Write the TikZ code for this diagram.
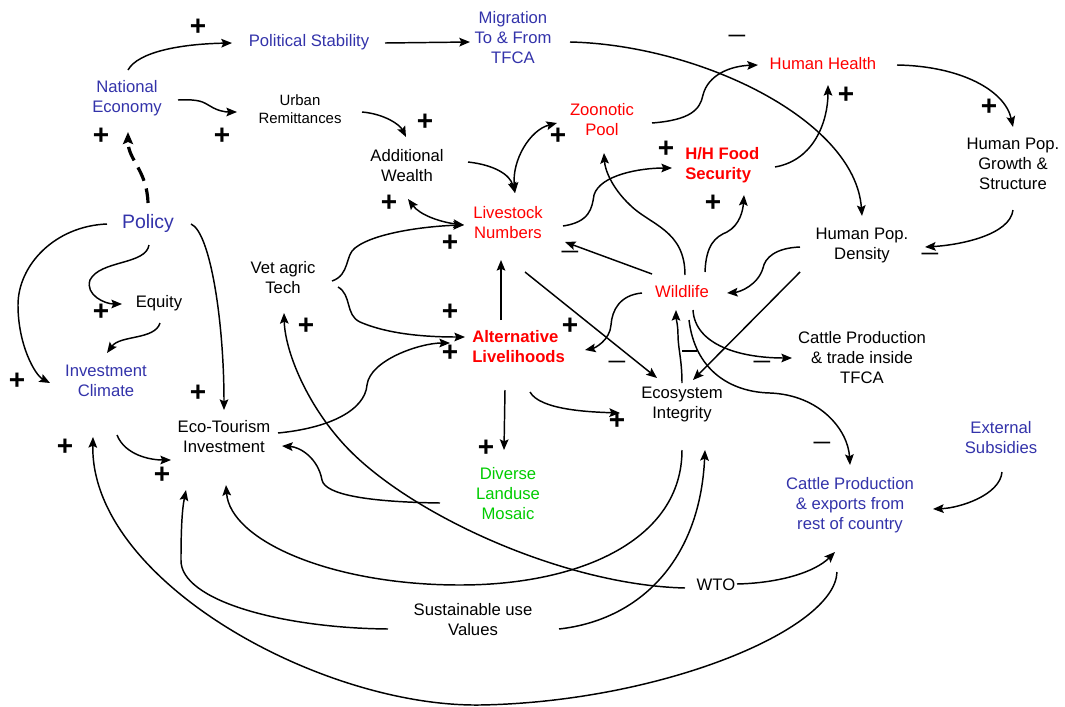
\documentclass[tikz,border=0pt]{standalone}
\usepackage{fontspec}
\setmainfont{Liberation Sans}
\usetikzlibrary{arrows.meta,calc}
\definecolor{cblue}{RGB}{51,51,170}
\definecolor{cred}{RGB}{255,0,0}
\definecolor{cgreen}{RGB}{0,204,0}
\begin{document}
\begin{tikzpicture}[x=0.75pt,y=-0.75pt,
  lbl/.style={align=center,inner sep=0pt,font=\fontsize{12.5}{15}\selectfont},
  boldlbl/.style={align=left,anchor=west,inner sep=0pt,font=\fontsize{12.5}{15}\selectfont\bfseries},
  pl/.style={inner sep=0pt,font=\fontsize{21}{21}\selectfont\bfseries},
  mn/.style={inner sep=0pt,font=\fontsize{12.5}{15}\selectfont\bfseries},
  arr/.style={line width=1.1pt,-{Stealth[length=8pt,width=6.5pt,inset=1.5pt]}},
  darr/.style={line width=1.1pt,{Stealth[length=8pt,width=6.5pt,inset=1.5pt]}-{Stealth[length=8pt,width=6.5pt,inset=1.5pt]}},
  dasharr/.style={line width=2.4pt,dash pattern=on 11pt off 6pt,-{Stealth[length=9pt,width=7.5pt,inset=1.5pt]}},
  tick/.style={line width=1.1pt}]
\useasboundingbox (0,0) rectangle (1065,707);

% nodes
\node[lbl,text=cblue] (pol) at (309,42) {Political Stability};
\node[lbl,text=cblue] (mig) at (513,38) {Migration\\To \& From\\TFCA};
\node[lbl,text=cred] (hh) at (823,64) {Human Health};
\node[lbl,text=cblue] (ne) at (127,98) {National\\Economy};
\node[lbl,font=\fontsize{11.2}{13.5}\selectfont] (ur) at (300,109) {Urban\\Remittances};
\node[lbl,text=cred] (zp) at (602,120) {Zoonotic\\Pool};
\node[boldlbl,text=cred] (fs) at (685,165) {H/H Food\\Security};
\node[lbl] (hpg) at (1013,164) {Human Pop.\\Growth \&\\Structure};
\node[lbl] (aw) at (407,166) {Additional\\Wealth};
\node[lbl,text=cblue,font=\fontsize{14.6}{17}\selectfont] (po) at (148,223) {Policy};
\node[lbl,text=cred] (ln) at (508,223) {Livestock\\Numbers};
\node[lbl] (hpd) at (862,245) {Human Pop.\\Density};
\node[lbl] (vat) at (283,278) {Vet agric\\Tech};
\node[lbl] (eq) at (159,303) {Equity};
\node[lbl,text=cred] (wl) at (682,292) {Wildlife};
\node[boldlbl,text=cred] (al) at (472,347) {Alternative\\Livelihoods};
\node[lbl] (cpt) at (862,358) {Cattle Production\\\& trade inside\\TFCA};
\node[lbl,text=cblue] (ic) at (106,381) {Investment\\Climate};
\node[lbl] (ei) at (682,404) {Ecosystem\\Integrity};
\node[lbl] (et) at (224,437) {Eco-Tourism\\Investment};
\node[lbl,text=cblue] (es) at (1001,438) {External\\Subsidies};
\node[lbl,text=cgreen] (dl) at (508,494) {Diverse\\Landuse\\Mosaic};
\node[lbl,text=cblue] (cpe) at (850,505) {Cattle Production\\\& exports from\\rest of country};
\node[lbl] (wto) at (716,585) {WTO};
\node[lbl] (su) at (473,620) {Sustainable use\\Values};

% signs
\node[pl] (p1) at (198,27) {+};
\node[pl] (p2) at (101,136) {+};
\node[pl] (p3) at (222,136) {+};
\node[pl] (p4) at (425,122) {+};
\node[pl] (p5) at (389,203) {+};
\node[pl] (p6) at (558,136) {+};
\node[pl] (p7) at (666,149) {+};
\node[pl] (p8) at (846,95) {+};
\node[pl] (p9) at (989,107) {+};
\node[pl] (p10) at (713,203) {+};
\node[pl] (p11) at (450,243) {+};
\node[pl] (p12) at (101,312) {+};
\node[pl] (p13) at (306,326) {+};
\node[pl] (p14) at (450,312) {+};
\node[pl] (p15) at (450,353) {+};
\node[pl] (p16) at (570,326) {+};
\node[pl] (p17) at (17,381) {+};
\node[pl] (p18) at (198,393) {+};
\node[pl] (p19) at (65,447) {+};
\node[pl] (p20) at (162,475) {+};
\node[pl] (p21) at (486,448) {+};
\node[pl] (p22) at (617,421) {+};
\node[mn] (m1) at (737,38) {—};
\node[mn] (m2) at (570,254) {—};
\node[mn] (m3) at (930,256) {—};
\node[mn] (m4) at (617,364) {—};
\node[mn] (m5) at (762,364) {—};
\node[mn] (m6) at (822,445) {—};

% connectors
\draw[arr] ($(ne)+(1,-28)$) .. controls (138,52) and (180,44) .. ($(pol)+(-77,1)$);
\draw[arr] ($(pol)+(76,1)$) -- ($(mig)+(-43,4)$);
\draw[arr] ($(mig)+(57,4)$) .. controls (700,45) and (855,120) .. ($(hpd)+(0,-29)$);
\draw[arr] ($(ne)+(51,2)$) .. controls (200,99) and (203,102) .. (210,106) .. controls (218,111) and (225,112) .. ($(ur)+(-63,3)$);
\draw[arr] ($(ur)+(62,3)$) .. controls (385,114) and (400,125) .. ($(aw)+(-1,-29)$);
\draw[dasharr] ($(po)+(0,-20)$) .. controls (147,170) and (128,160) .. ($(ne)+(1,34)$);
\draw[arr] ($(po)+(-41,1)$) .. controls (55,226) and (18,265) .. (18,305) .. controls (18,345) and (35,375) .. ($(ic)+(-56,2)$);
\draw[arr] ($(po)+(1,22)$) .. controls (146,265) and (100,260) .. (90,280) .. controls (85,295) and (105,304) .. ($(eq)+(-37,1)$);
\draw[arr] ($(eq)+(1,20)$) .. controls (155,340) and (120,335) .. ($(ic)+(1,-28)$);
\draw[arr] ($(po)+(43,1)$) .. controls (210,232) and (224,320) .. ($(et)+(0,-27)$);
\draw[arr] ($(ic)+(11,54)$) .. controls (125,455) and (150,460) .. ($(et)+(-53,23)$);
\draw[arr] ($(cpe)+(-13,67)$) .. controls (835,630) and (660,702) .. (480,705) .. controls (320,707) and (90,580) .. ($(ic)+(-13,56)$);
\draw[arr] ($(wto)+(21,-1)$) .. controls (780,583) and (815,572) .. ($(cpe)+(-15,47)$);
\draw[arr] ($(wto)+(-31,3)$) .. controls (560,585) and (400,510) .. (340,440) .. controls (305,400) and (285,350) .. ($(vat)+(1,35)$);
\draw[arr] ($(vat)+(49,3)$) .. controls (350,275) and (345,255) .. (355,248) .. controls (375,232) and (430,226) .. ($(ln)+(-44,2)$);
\draw[arr] ($(vat)+(55,9)$) .. controls (352,295) and (345,315) .. (360,322) .. controls (390,335) and (430,337) .. ($(al.west)+(-7,-10)$);
\draw[arr] ($(et)+(54,-4)$) .. controls (330,428) and (365,410) .. (367,385) .. controls (370,360) and (420,343) .. ($(al.west)+(-22,-4)$);
\draw[arr] ($(dl)+(-68,9)$) .. controls (370,502) and (325,495) .. (322,480) .. controls (318,458) and (300,447) .. ($(et)+(58,9)$);
\draw[arr] ($(ei)+(0,46)$) .. controls (682,540) and (580,585) .. (460,585) .. controls (330,585) and (230,540) .. ($(et)+(2,48)$);
\draw[arr] ($(su)+(-85,9)$) .. controls (280,628) and (180,600) .. (181,560) .. controls (181,530) and (182,510) .. ($(et)+(-38,53)$);
\draw[arr] ($(su)+(86,9)$) .. controls (640,620) and (700,560) .. ($(ei)+(23,46)$);
\draw[arr] ($(al.west)+(33,43)$) -- ($(dl)+(-4,-44)$);
\draw[arr] ($(al.west)+(58,45)$) .. controls (540,410) and (590,412) .. ($(ei)+(-62,9)$);
\draw[arr] ($(al.west)+(29,-27)$) -- ($(ln)+(-7,37)$);
\draw[arr] ($(ln)+(17,49)$) -- ($(ei)+(-25,-26)$);
\draw[arr] ($(wl)+(-30,-18)$) -- ($(ln)+(57,19)$);
\draw[arr] ($(wl)+(-40,1)$) .. controls (620,295) and (612,310) .. (611,325) .. controls (610,340) and (595,348) .. ($(al.west)+(113,3)$);
\draw[arr] ($(wl)+(3,-17)$) .. controls (685,230) and (650,225) .. (630,205) .. controls (612,188) and (605,170) .. ($(zp)+(2,33)$);
\draw[arr] ($(wl)+(23,-20)$) .. controls (706,245) and (715,237) .. (727,232) .. controls (740,225) and (743,210) .. ($(fs.west)+(59,30)$);
\draw[arr] ($(ln)+(55,3)$) .. controls (590,222) and (592,208) .. (594,195) .. controls (600,175) and (640,168) .. ($(fs.west)+(-13,3)$);
\draw[darr] ($(ln)+(7,-30)$) .. controls (512,160) and (530,130) .. ($(zp)+(-45,3)$);
\draw[arr] ($(aw)+(61,-4)$) .. controls (495,165) and (510,175) .. ($(ln)+(7,-30)$);
\draw[darr] ($(aw)+(1,33)$) .. controls (420,215) and (440,222) .. ($(ln)+(-44,2)$);
\draw[arr] ($(zp)+(50,3)$) .. controls (690,120) and (700,110) .. (703,95) .. controls (708,75) and (730,66) .. ($(hh)+(-65,1)$);
\draw[arr] ($(fs.west)+(90,2)$) .. controls (815,160) and (828,120) .. ($(hh)+(5,21)$);
\draw[arr] ($(hh)+(74,1)$) .. controls (960,66) and (1005,90) .. ($(hpg)+(0,-37)$);
\draw[arr] ($(hpg)+(0,46)$) .. controls (1010,235) and (960,245) .. ($(hpd)+(63,2)$);
\draw[arr] ($(hpd)+(-62,2)$) .. controls (775,248) and (765,258) .. (763,268) .. controls (758,285) and (740,292) .. ($(wl)+(45,1)$);
\draw[arr] ($(hpd)+(-62,27)$) -- ($(ei)+(11,-24)$);
\draw[arr] ($(wl)+(11,18)$) .. controls (695,345) and (740,358) .. ($(cpt)+(-70,0)$);
\draw[arr] ($(wl)+(7,28)$) .. controls (695,370) and (730,392) .. (770,393) .. controls (820,395) and (848,430) .. ($(cpe)+(0,-40)$);
\draw[arr] ($(ei)+(0,-21)$) .. controls (682,360) and (678,348) .. (678,335) .. controls (678,325) and (676,318) .. ($(wl)+(-6,18)$);
\draw[tick] ($(ei)+(0,-53)$) -- ($(ei)+(15,-53)$);
\draw[arr] ($(es)+(1,34)$) .. controls (1000,495) and (960,508) .. ($(cpe)+(83,4)$);
\end{tikzpicture}
\end{document}
